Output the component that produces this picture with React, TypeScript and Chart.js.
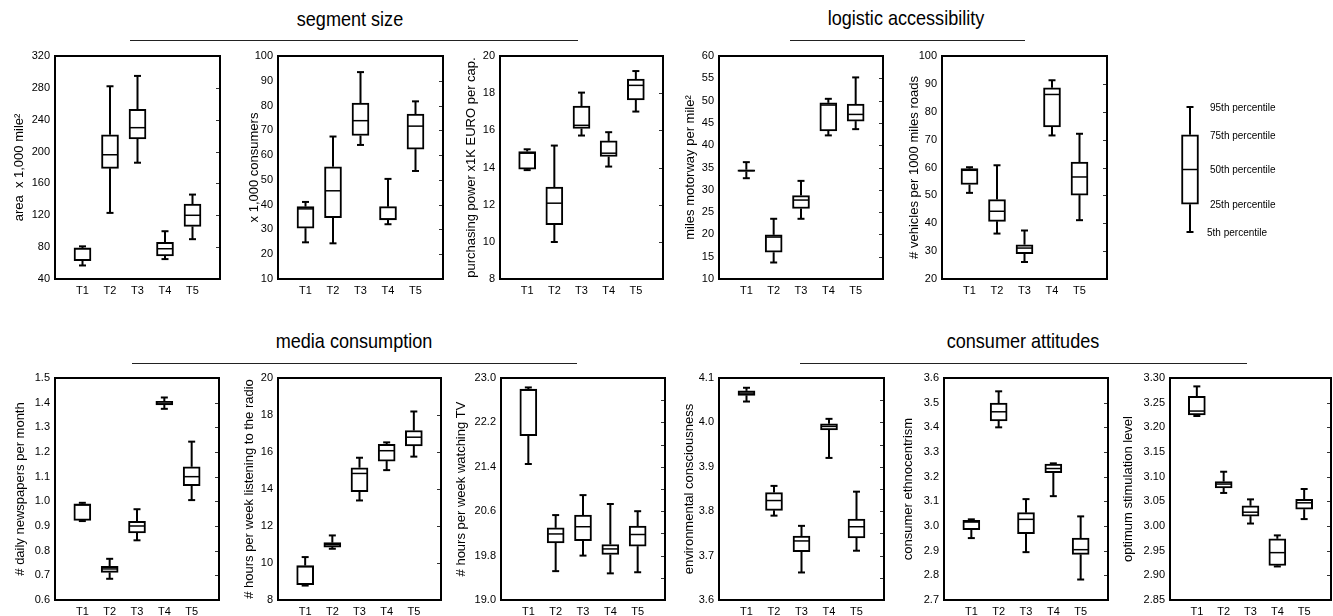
import React, { useEffect, useRef } from 'react';
import { Chart, registerables } from 'chart.js';

Chart.register(...registerables);

// ---------- data ----------
const categories = ['T1', 'T2', 'T3', 'T4', 'T5'];

// each row (T1..T5): [5th, 25th, 50th, 75th, 95th percentile]
const areaBoxes = [
  [57, 63, 78, 79, 81],
  [123, 179, 196, 221, 282],
  [186, 216, 230, 253, 295],
  [65, 69, 78, 86, 100],
  [90, 106, 120, 134, 146],
];
const areaTicks = [40, 80, 120, 160, 200, 240, 280, 320];

const consumerBoxes = [
  [24.8, 30.5, 38.3, 39.2, 41.1],
  [24.4, 34.8, 45.6, 55.3, 67.5],
  [64.1, 67.9, 73.9, 81.0, 93.5],
  [32.1, 33.8, 34.2, 39.2, 50.4],
  [53.6, 62.4, 71.7, 76.6, 81.7],
];
const consumerTicks = [10, 20, 30, 40, 50, 60, 70, 80, 90, 100];

const purchasingBoxes = [
  [13.86, 13.91, 14.77, 14.86, 14.98],
  [9.99, 10.92, 12.08, 12.94, 15.18],
  [15.72, 16.1, 16.27, 17.31, 18.03],
  [14.05, 14.59, 14.77, 15.43, 15.9],
  [17.01, 17.64, 18.42, 18.76, 19.19],
];
const purchasingTicks = [8, 10, 12, 14, 16, 18, 20];

const motorwayBoxes = [
  [32.6, 34.1, 34.3, 34.5, 36.2],
  [13.7, 16.0, 19.4, 19.9, 23.5],
  [23.5, 25.8, 27.7, 28.7, 32.0],
  [42.2, 43.2, 49.0, 49.5, 50.4],
  [43.6, 45.4, 46.9, 49.2, 55.2],
];
const motorwayTicks = [10, 15, 20, 25, 30, 35, 40, 45, 50, 55, 60];

const vehicleBoxes = [
  [50.9, 53.9, 59.0, 59.6, 60.1],
  [36.3, 40.7, 44.3, 48.5, 60.8],
  [26.1, 29.1, 31.1, 32.3, 37.4],
  [71.5, 74.6, 86.2, 88.6, 91.3],
  [41.1, 50.1, 56.6, 61.9, 72.1],
];
const vehicleTicks = [20, 30, 40, 50, 60, 70, 80, 90, 100];

const newspaperBoxes = [
  [0.92, 0.923, 0.985, 0.99, 0.994],
  [0.686, 0.712, 0.726, 0.737, 0.767],
  [0.842, 0.872, 0.9, 0.919, 0.968],
  [1.375, 1.391, 1.398, 1.405, 1.421],
  [1.005, 1.063, 1.1, 1.14, 1.242],
];
const newspaperTicks = [0.6, 0.7, 0.8, 0.9, 1.0, 1.1, 1.2, 1.3, 1.4, 1.5];

const radioBoxes = [
  [8.78, 8.83, 9.8, 9.86, 10.32],
  [10.77, 10.86, 10.99, 11.1, 11.49],
  [13.38, 13.85, 14.84, 15.15, 15.69],
  [15.02, 15.51, 16.07, 16.42, 16.52],
  [15.75, 16.33, 16.8, 17.16, 18.19],
];
const radioTicks = [8, 10, 12, 14, 16, 18, 20];

const tvBoxes = [
  [21.45, 21.96, 22.78, 22.8, 22.83],
  [19.52, 20.03, 20.19, 20.3, 20.53],
  [19.8, 20.07, 20.32, 20.53, 20.89],
  [19.48, 19.82, 19.92, 20.0, 20.73],
  [19.5, 19.97, 20.18, 20.33, 20.6],
];
const tvTicks = [19.0, 19.8, 20.6, 21.4, 22.2, 23.0];

const environmentBoxes = [
  [4.047, 4.061, 4.066, 4.071, 4.078],
  [3.79, 3.802, 3.824, 3.842, 3.857],
  [3.662, 3.709, 3.733, 3.744, 3.767],
  [3.92, 3.983, 3.991, 3.997, 4.008],
  [3.711, 3.74, 3.765, 3.782, 3.844],
];
const environmentTicks = [3.6, 3.7, 3.8, 3.9, 4.0, 4.1];

const ethnocentrismBoxes = [
  [2.951, 2.985, 3.016, 3.023, 3.027],
  [3.4, 3.426, 3.463, 3.498, 3.546],
  [2.894, 2.969, 3.027, 3.054, 3.109],
  [3.121, 3.216, 3.233, 3.251, 3.254],
  [2.783, 2.885, 2.904, 2.951, 3.039],
];
const ethnocentrismTicks = [2.7, 2.8, 2.9, 3.0, 3.1, 3.2, 3.3, 3.4, 3.5, 3.6];

const stimulationBoxes = [
  [3.223, 3.225, 3.233, 3.263, 3.283],
  [3.067, 3.077, 3.085, 3.09, 3.11],
  [3.005, 3.02, 3.028, 3.041, 3.054],
  [2.918, 2.92, 2.946, 2.974, 2.981],
  [3.014, 3.034, 3.047, 3.054, 3.075],
];
const stimulationTicks = [2.85, 2.9, 2.95, 3.0, 3.05, 3.1, 3.15, 3.2, 3.25, 3.3];

const legendLevels = [5, 25, 50, 75, 95];
const legendLabels = ['5th percentile', '25th percentile', '50th percentile', '75th percentile', '95th percentile'];

// ---------- layout / style ----------
const SANS = "'Liberation Sans', Arial, Helvetica, sans-serif";
const TITLE_SIZE = 13;
const TITLE_LH = TITLE_SIZE * 1.2;
const PAD_TOP = 45;
const PAD_RIGHT = 6;
const PAD_BOTTOM = 4;
const X_H = 18;

type Panel = {
  boxes: number[][];
  ticks: number[];
  decimals: number;
  title: string;
  plot: [number, number, number, number];
  titleX: number;
  half?: boolean;
};

const panels: Panel[] = [
  { boxes: areaBoxes, ticks: areaTicks, decimals: 0, title: 'area  x 1,000 mile²', plot: [55, 56, 220, 279], titleX: 20 },
  { boxes: consumerBoxes, ticks: consumerTicks, decimals: 0, title: 'x 1,000 consumers', plot: [278, 56, 443, 279], titleX: 255 },
  { boxes: purchasingBoxes, ticks: purchasingTicks, decimals: 0, title: 'purchasing power x1K EURO per cap.', plot: [500, 56, 663, 279], titleX: 472 },
  { boxes: motorwayBoxes, ticks: motorwayTicks, decimals: 0, title: 'miles motorway per mile²', plot: [719, 56, 883, 279], titleX: 691 },
  { boxes: vehicleBoxes, ticks: vehicleTicks, decimals: 0, title: '# vehicles per 1000 miles roads', plot: [942, 56, 1107, 279], titleX: 915 },
  { boxes: newspaperBoxes, ticks: newspaperTicks, decimals: 1, title: '# daily newspapers per month', plot: [55, 378, 219, 600], titleX: 21 },
  { boxes: radioBoxes, ticks: radioTicks, decimals: 0, title: '# hours per week listening to the radio', plot: [278, 378, 441, 600], titleX: 250 },
  { boxes: tvBoxes, ticks: tvTicks, decimals: 1, title: '# hours per week watching TV', plot: [501, 378, 665, 600], titleX: 462, half: true },
  { boxes: environmentBoxes, ticks: environmentTicks, decimals: 1, title: 'environmental consciousness', plot: [719, 378, 884, 600], titleX: 690, half: true },
  { boxes: ethnocentrismBoxes, ticks: ethnocentrismTicks, decimals: 1, title: 'consumer ethnocentrism', plot: [944, 378, 1108, 600], titleX: 909 },
  { boxes: stimulationBoxes, ticks: stimulationTicks, decimals: 2, title: 'optimum stimulation level', plot: [1170, 378, 1331, 600], titleX: 1129 },
];

const sections = [
  { text: 'segment size', cx: 350, cy: 19, x1: 130, x2: 578, ly: 40 },
  { text: 'logistic accessibility', cx: 906, cy: 18, x1: 790, x2: 1025, ly: 40 },
  { text: 'media consumption', cx: 354, cy: 341, x1: 132, x2: 577, ly: 363 },
  { text: 'consumer attitudes', cx: 1023, cy: 341, x1: 800, x2: 1247, ly: 363 },
];

function strokeLine(ctx: CanvasRenderingContext2D, x1: number, y1: number, x2: number, y2: number) {
  ctx.beginPath();
  ctx.moveTo(x1, y1);
  ctx.lineTo(x2, y2);
  ctx.stroke();
}

const boxPlugin = {
  id: 'boxWhiskers',
  afterDatasetsDraw(chart: any) {
    const opts = chart.options.plugins.boxWhiskers || {};
    const boxes: number[][] = opts.boxes || [];
    const ys = chart.scales.y;
    const meta = chart.getDatasetMeta(0);
    const ctx: CanvasRenderingContext2D = chart.ctx;
    ctx.save();
    ctx.strokeStyle = '#000';
    ctx.lineCap = 'butt';
    boxes.forEach((bx, i) => {
      const bar = meta.data[i];
      if (!bar) return;
      const cx = bar.x;
      const half = bar.width / 2;
      const p5 = ys.getPixelForValue(bx[0]);
      const q1 = ys.getPixelForValue(bx[1]);
      const med = ys.getPixelForValue(bx[2]);
      const q3 = ys.getPixelForValue(bx[3]);
      const p95 = ys.getPixelForValue(bx[4]);
      ctx.lineWidth = 2;
      strokeLine(ctx, cx, q3, cx, p95);
      strokeLine(ctx, cx, q1, cx, p5);
      strokeLine(ctx, cx - 3.5, p95, cx + 3.5, p95);
      strokeLine(ctx, cx - 3.5, p5, cx + 3.5, p5);
      ctx.lineWidth = 1.5;
      strokeLine(ctx, cx - half + 1, med, cx + half - 1, med);
    });
    if (opts.frame) {
      const a = chart.chartArea;
      const tickVals: number[] = [];
      const tv: number[] = opts.ticks || [];
      tv.forEach((v, i) => {
        tickVals.push(v);
        if (opts.half && i < tv.length - 1) tickVals.push((v + tv[i + 1]) / 2);
      });
      ctx.lineWidth = 1;
      ctx.strokeStyle = '#333';
      tickVals.forEach((v) => {
        const y = Math.round(ys.getPixelForValue(v)) + 0.5;
        strokeLine(ctx, a.right - 4, y, a.right, y);
      });
      ctx.strokeStyle = '#000';
      ctx.lineWidth = 2;
      ctx.strokeRect(a.left, a.top, a.right - a.left, a.bottom - a.top);
    }
    if (opts.legendLabels) {
      const a = chart.chartArea;
      ctx.fillStyle = '#000';
      ctx.font = `10px ${SANS}`;
      ctx.textBaseline = 'middle';
      ctx.textAlign = 'left';
      (opts.legendLevels as number[]).forEach((v, i) => {
        const y = ys.getPixelForValue(v);
        ctx.fillText(opts.legendLabels[i], a.right + (v === 5 ? -3 : 0), y + 1);
      });
    }
    ctx.restore();
  },
};

function BoxPanel({ panel }: { panel: Panel }) {
  const ref = useRef<HTMLCanvasElement>(null);
  const [l, t, r, b] = panel.plot;
  const yW = Math.round(l - (panel.titleX - TITLE_LH / 2));
  const left = l - yW;
  const top = t - PAD_TOP;
  const width = yW + (r - l) + PAD_RIGHT;
  const height = PAD_TOP + (b - t) + X_H + PAD_BOTTOM;

  useEffect(() => {
    const canvas = ref.current;
    if (!canvas) return;
    const tk = panel.ticks;
    const chart = new Chart(canvas, {
      type: 'bar',
      data: {
        datasets: [
          {
            data: panel.boxes.map((bx, i) => ({ x: i + 1, y: [bx[1], bx[3]] })) as any,
            backgroundColor: '#ffffff',
            borderColor: '#000000',
            borderWidth: 2,
            borderSkipped: false,
            barThickness: 17,
          } as any,
        ],
      },
      options: {
        responsive: false,
        maintainAspectRatio: false,
        animation: false,
        events: [],
        layout: { padding: { top: PAD_TOP, right: PAD_RIGHT, bottom: PAD_BOTTOM, left: 0 } },
        plugins: {
          legend: { display: false },
          tooltip: { enabled: false },
          boxWhiskers: { boxes: panel.boxes, frame: true, ticks: tk, half: panel.half },
        } as any,
        scales: {
          x: {
            type: 'linear',
            min: 0,
            max: 6,
            offset: false,
            grid: { display: false, drawTicks: false },
            border: { display: false },
            afterBuildTicks: (s: any) => {
              s.ticks = categories.map((_, i) => ({ value: i + 1 }));
            },
            ticks: {
              callback: (_v: any, i: number) => categories[i],
              font: { family: SANS, size: 11 },
              color: '#000',
              padding: 5,
              maxRotation: 0,
              autoSkip: false,
            },
            afterFit: (s: any) => {
              s.height = X_H;
            },
          },
          y: {
            type: 'linear',
            min: tk[0],
            max: tk[tk.length - 1],
            beginAtZero: false,
            grid: { display: false, drawTicks: false },
            border: { display: false },
            afterBuildTicks: (s: any) => {
              s.ticks = tk.map((v) => ({ value: v }));
            },
            ticks: {
              callback: (v: any) => Number(v).toFixed(panel.decimals),
              font: { family: SANS, size: 11 },
              color: '#000',
              padding: 5,
              autoSkip: false,
            },
            title: {
              display: true,
              text: panel.title,
              font: { family: SANS, size: TITLE_SIZE, lineHeight: 1.2 },
              color: '#000',
              padding: 0,
            },
            afterFit: (s: any) => {
              s.width = yW;
            },
          },
        } as any,
      },
      plugins: [boxPlugin as any],
    });
    return () => chart.destroy();
  }, []);

  return (
    <canvas
      ref={ref}
      width={width}
      height={height}
      style={{ position: 'absolute', left, top, width, height }}
    />
  );
}

function LegendPanel() {
  const ref = useRef<HTMLCanvasElement>(null);
  const left = 1170;
  const top = 97;
  const width = 130;
  const height = 145;
  useEffect(() => {
    const canvas = ref.current;
    if (!canvas) return;
    const box = [legendLevels[0], legendLevels[1], legendLevels[2], legendLevels[3], legendLevels[4]];
    const chart = new Chart(canvas, {
      type: 'bar',
      data: {
        datasets: [
          {
            data: [{ x: 1, y: [box[1], box[3]] }] as any,
            backgroundColor: '#ffffff',
            borderColor: '#000000',
            borderWidth: 2,
            borderSkipped: false,
            barThickness: 17,
          } as any,
        ],
      },
      options: {
        responsive: false,
        maintainAspectRatio: false,
        animation: false,
        events: [],
        layout: { padding: { top: 10, right: 90, bottom: 10, left: 0 } },
        plugins: {
          legend: { display: false },
          tooltip: { enabled: false },
          boxWhiskers: { boxes: [box], legendLevels, legendLabels },
        } as any,
        scales: {
          x: { type: 'linear', display: false, min: 0, max: 2, offset: false },
          y: { type: 'linear', display: false, min: 5, max: 95, beginAtZero: false },
        } as any,
      },
      plugins: [boxPlugin as any],
    });
    return () => chart.destroy();
  }, []);
  return (
    <canvas ref={ref} width={width} height={height} style={{ position: 'absolute', left, top, width, height }} />
  );
}

export default function App() {
  return (
    <div
      style={{
        position: 'fixed',
        left: 0,
        top: 0,
        width: 1333,
        height: 616,
        background: '#fff',
        overflow: 'hidden',
      }}
    >
      {sections.map((s) => (
        <React.Fragment key={s.text}>
          <div
            style={{
              position: 'absolute',
              left: s.cx - 150,
              width: 300,
              top: s.cy - 13,
              height: 26,
              lineHeight: '26px',
              textAlign: 'center',
              fontFamily: SANS,
              fontSize: 21,
              color: '#000',
              whiteSpace: 'nowrap',
              transform: 'scaleX(0.86)',
              transformOrigin: '50% 50%',
            }}
          >
            {s.text}
          </div>
          <div
            style={{
              position: 'absolute',
              left: s.x1,
              width: s.x2 - s.x1,
              top: s.ly,
              height: 0,
              borderTop: '1px solid #222',
            }}
          />
        </React.Fragment>
      ))}
      {panels.map((p, i) => (
        <BoxPanel key={i} panel={p} />
      ))}
      <LegendPanel />
    </div>
  );
}
